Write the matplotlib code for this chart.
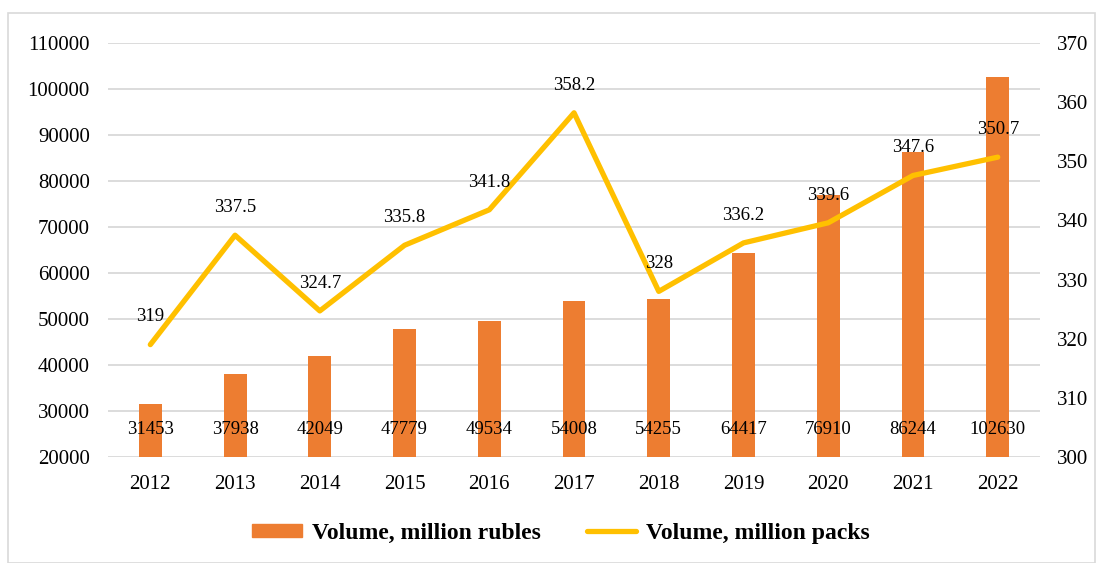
import matplotlib.pyplot as plt
from matplotlib.patches import Rectangle
from matplotlib.lines import Line2D
from matplotlib.patches import Patch

plt.rcParams['font.family'] = ['Liberation Serif', 'DejaVu Serif']

anni = ["2012", "2013", "2014", "2015", "2016", "2017", "2018", "2019", "2020", "2021", "2022"]
rubli = [31453, 37938, 42049, 47779, 49534, 54008, 54255, 64417, 76910, 86244, 102630]
pacchi = [319, 337.5, 324.7, 335.8, 341.8, 358.2, 328, 336.2, 339.6, 347.6, 350.7]

arancio = "#ED7D31"
giallo = "#FFC000"

fig = plt.figure(figsize=(10.96, 5.63), dpi=100)
fig.patches.append(Rectangle((8 / 1096, 0), 1 - 8 / 1096 - 0.001, 1 - 13 / 563,
                             transform=fig.transFigure, fill=False,
                             edgecolor="#D9D9D9", linewidth=1.2))

ax = fig.add_axes([0.0985, 0.1883, 0.8505, 0.7353])
x = list(range(len(anni)))
ax.bar(x, rubli, width=0.27, color=arancio, zorder=2)
ax.set_ylim(20000, 110000)
ax.set_yticks(range(20000, 110001, 10000))
ax.set_xlim(-0.5, len(anni) - 0.5)
ax.set_xticks(x)
ax.set_xticklabels(anni)
ax.grid(axis="y", color="#D9D9D9", linewidth=1.3, zorder=0)
ax.set_axisbelow(True)
for s in ax.spines.values():
    s.set_visible(False)
ax.tick_params(length=0, labelsize=15, pad=13)
ax.tick_params(axis="y", pad=13)

for i, v in enumerate(rubli):
    ax.text(i, 25900, str(v), ha="center", va="center", fontsize=13.5, zorder=4)

ax2 = ax.twinx()
ax2.plot(x, pacchi, color=giallo, linewidth=3.8, solid_capstyle="round", zorder=3)
ax2.set_ylim(300, 370)
ax2.set_yticks(range(300, 371, 10))
for s in ax2.spines.values():
    s.set_visible(False)
ax2.tick_params(length=0, labelsize=15, pad=12)

for i, v in enumerate(pacchi):
    testo = f"{v:g}"
    ax2.annotate(testo, (i, v), xytext=(0, 20), textcoords="offset points",
                 ha="center", va="center", fontsize=13.5)

maniglie = [Patch(color=arancio), Line2D([0], [0], color=giallo, linewidth=3.8, solid_capstyle="round")]
fig.legend(maniglie, ["Volume, million rubles", "Volume, million packs"],
           loc="center", bbox_to_anchor=(0.512, 0.053), ncol=2, frameon=False,
           prop={"weight": "bold", "size": 17}, handlelength=2.1, handleheight=0.5,
           handletextpad=0.42, columnspacing=1.95)

fig.savefig("out.png", dpi=100)
